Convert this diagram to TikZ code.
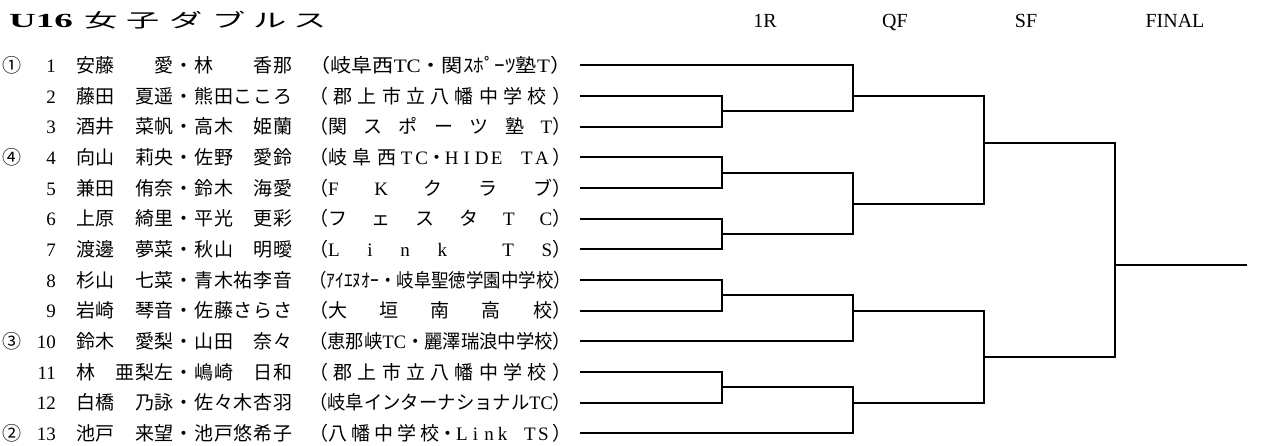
\documentclass[tikz,border=0pt]{standalone}
\usepackage{fontspec}
\usepackage{graphicx}
\setmainfont{Liberation Serif}
\newfontfamily\jp{Noto Sans CJK JP}

% spread the tokens of a string evenly over a box
\def\spr#1{\sprA#1\relax}
\def\sprA#1{#1\sprB}
\def\sprB#1{\ifx\relax#1\else\hfil#1\expandafter\sprB\fi}
\def\zs{\hbox to 1em{}}
\newcommand\hw[1]{\makebox[0.5em]{\rmfamily #1}}
\newcommand\nm[1]{\hbox to 216pt{\jp\spr{#1}}}
\newcommand\tmd[1]{\hbox to 262pt{#1}}
\newcommand\tmfit[1]{\resizebox{262pt}{\height}{#1}}

\begin{document}
\begin{tikzpicture}[x=1pt,y=-1pt,
  every node/.style={inner sep=0pt,font=\fontsize{19}{23}\selectfont},
  seed/.style={anchor=base,font=\jp\fontsize{19}{23}\selectfont},
  num/.style={anchor=base east},
  nmst/.style={anchor=base west},
  tmst/.style={anchor=base west},
  hdr/.style={anchor=base,font=\fontsize{20}{24}\selectfont},
  ttl/.style={anchor=base,font=\jp\fontsize{19}{22}\selectfont},
  br/.style={draw=black,line width=2pt,line cap=rect}]
\useasboundingbox (0,0) rectangle (1263,446);
\fill[white] (0,0) rectangle (1263,446);

\newcommand\entry[3]{%
  \pgfmathsetmacro\yb{72.5+30.65*(#1-1)}%
  \pgfmathsetmacro\yl{65.5+30.65*(#1-1)}%
  \node[num] (num#1) at (56,\yb) {#1};
  \node[nmst] (nm#1) at (76,\yb) {\nm{#2}};
  \node[tmst] (tm#1) at (309,\yb) {#3};
  \coordinate (s#1) at (580.7,\yl);
}

% title
\node[anchor=base west] (tu) at (9,28) {\scalebox{1.85}[1]{\fontsize{20}{24}\selectfont\bfseries U16}};
\node[ttl] (t1) at (101,28) {\scalebox{1.75}[1]{女}};
\node[ttl] (t2) at (143,28) {\scalebox{1.75}[1]{子}};
\node[ttl] (t3) at (186,28) {\scalebox{1.75}[1]{ダ}};
\node[ttl] (t4) at (229,28) {\scalebox{1.75}[1]{ブ}};
\node[ttl] (t5) at (270,28) {\scalebox{1.75}[1]{ル}};
\node[ttl] (t6) at (310,28) {\scalebox{1.75}[1]{ス}};

% round headers
\node[hdr] (h1) at (765,28) {1R};
\node[hdr] (h2) at (895,28) {QF};
\node[hdr] (h3) at (1026,28) {SF};
\node[hdr] (h4) at (1175,28) {FINAL};

% seeds
\node[seed] (sd1) at (12,72.5) {①};
\node[seed] (sd4) at (12,164.45) {④};
\node[seed] (sd10) at (12,348.35) {③};
\node[seed] (sd13) at (12,440.3) {②};

% entries
\entry{1}{安藤\zs\zs 愛・林\zs\zs 香那}{\tmfit{{\jp （岐阜西}TC{\jp ・関ｽﾎﾟｰﾂ塾}T{\jp ）}}}
\entry{2}{藤田\zs 夏遥・熊田こころ}{\tmd{\jp\spr{（郡上市立八幡中学校）}}}
\entry{3}{酒井\zs 菜帆・高木\zs 姫蘭}{\tmd{\jp （関\hfil ス\hfil ポ\hfil ー\hfil ツ\hfil 塾\hfil\rmfamily T\jp ）}}
\entry{4}{向山\zs 莉央・佐野\zs 愛鈴}{\tmd{\jp （岐\hfil 阜\hfil 西\hfil\hw{T}\hfil\hw{C}\hfil\hw{\jp ・}\hfil\hw{H}\hfil\hw{I}\hfil\hw{D}\hfil\hw{E}\hfil\hw{~}\hfil\hw{T}\hfil\hw{A}\hfil）}}
\entry{5}{兼田\zs 侑奈・鈴木\zs 海愛}{\tmd{\jp （\rmfamily F\hfil K\hfil\jp ク\hfil ラ\hfil ブ）}}
\entry{6}{上原\zs 綺里・平光\zs 更彩}{\tmd{\jp （フ\hfil ェ\hfil ス\hfil タ\hfil\rmfamily T\hfil C\jp ）}}
\entry{7}{渡邊\zs 夢菜・秋山\zs 明曖}{\tmd{\jp （\rmfamily L\hfil i\hfil n\hfil k\hfil\hfil T\hfil S\jp ）}}
\entry{8}{杉山\zs 七菜・青木祐李音}{\tmfit{\jp （ｱｲｴﾇｵｰ・岐阜聖徳学園中学校）}}
\entry{9}{岩崎\zs 琴音・佐藤さらさ}{\tmd{\jp （大\hfil 垣\hfil 南\hfil 高\hfil 校）}}
\entry{10}{鈴木\zs 愛梨・山田\zs 奈々}{\tmfit{{\jp （恵那峡}TC{\jp ・麗澤瑞浪中学校）}}}
\entry{11}{林\zs 亜梨左・嶋崎\zs 日和}{\tmd{\jp\spr{（郡上市立八幡中学校）}}}
\entry{12}{白橋\zs 乃詠・佐々木杏羽}{\tmfit{{\jp （岐阜インターナショナル}TC{\jp ）}}}
\entry{13}{池戸\zs 来望・池戸悠希子}{\tmd{\jp （八\hfil 幡\hfil 中\hfil 学\hfil 校\hfil\hw{\jp ・}\hfil\hw{L}\hfil\hw{i}\hfil\hw{n}\hfil\hw{k}\hfil\hw{~}\hfil\hw{T}\hfil\hw{S}\hfil）}}

% bracket coordinates
\coordinate (j23) at (722,111.5);   \coordinate (k23) at (853,111.5);
\coordinate (j45) at (722,172.8);   \coordinate (k45) at (853,172.8);
\coordinate (j67) at (722,234.1);   \coordinate (k67) at (853,234.1);
\coordinate (j89) at (722,295.4);   \coordinate (k89) at (853,295.4);
\coordinate (j1112) at (722,387.3); \coordinate (k1112) at (853,387.3);
\coordinate (ko1) at (853,96.15);   \coordinate (l1) at (984,96.15);
\coordinate (ko2) at (853,204);     \coordinate (l2) at (984,204);
\coordinate (ko3) at (853,310.7);   \coordinate (l3) at (984,310.7);
\coordinate (ko4) at (853,402.65);  \coordinate (l4) at (984,402.65);
\coordinate (mo1) at (984,143.3);   \coordinate (n1) at (1115,143.3);
\coordinate (mo2) at (984,356.7);   \coordinate (n2) at (1115,356.7);
\coordinate (fo) at (1115,265);     \coordinate (fin) at (1245.7,265);

% first round
\draw[br] (s2) -| (j23) |- (s3);
\draw[br] (s4) -| (j45) |- (s5);
\draw[br] (s6) -| (j67) |- (s7);
\draw[br] (s8) -| (j89) |- (s9);
\draw[br] (s11) -| (j1112) |- (s12);
\draw[br] (j23) -- (k23);
\draw[br] (j45) -- (k45);
\draw[br] (j67) -- (k67);
\draw[br] (j89) -- (k89);
\draw[br] (j1112) -- (k1112);
% quarter finals
\draw[br] (s1) -| (k23);
\draw[br] (k45) -- (k67);
\draw[br] (k89) |- (s10);
\draw[br] (k1112) |- (s13);
\draw[br] (ko1) -- (l1);
\draw[br] (ko2) -- (l2);
\draw[br] (ko3) -- (l3);
\draw[br] (ko4) -- (l4);
% semi finals
\draw[br] (l1) -- (l2);
\draw[br] (l3) -- (l4);
\draw[br] (mo1) -- (n1);
\draw[br] (mo2) -- (n2);
% final
\draw[br] (n1) -- (n2);
\draw[br] (fo) -- (fin);
\end{tikzpicture}
\end{document}
